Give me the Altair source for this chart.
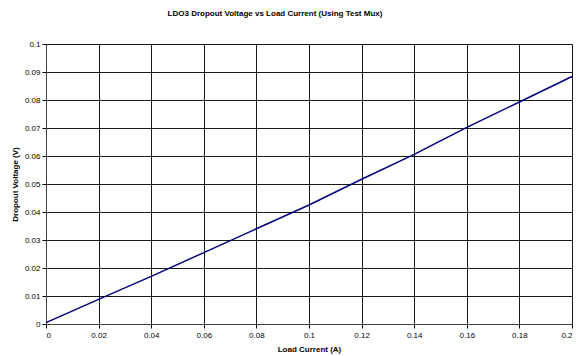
import altair as alt
import pandas as pd

# Load current (A) and measured dropout voltage (V)
load_current = [0.0, 0.02, 0.04, 0.06, 0.08, 0.10, 0.12, 0.14, 0.16, 0.18, 0.20]
dropout_voltage = [0.0005, 0.0088, 0.0170, 0.0255, 0.0340, 0.0425, 0.0517, 0.0606, 0.0702, 0.0793, 0.0884]

x_ticks = [0, 0.02, 0.04, 0.06, 0.08, 0.1, 0.12, 0.14, 0.16, 0.18, 0.2]
y_ticks = [0, 0.01, 0.02, 0.03, 0.04, 0.05, 0.06, 0.07, 0.08, 0.09, 0.1]

df = pd.DataFrame({"current": load_current, "voltage": dropout_voltage})

font = "Liberation Sans"

chart = (
    alt.Chart(df)
    .mark_line(color="#000080", strokeWidth=1.5)
    .encode(
        x=alt.X(
            "current:Q",
            scale=alt.Scale(domain=[0, 0.2], nice=False),
            axis=alt.Axis(
                values=x_ticks,
                title="Load Current (A)",
                format="~g",
                labelFontSize=8,
                labelFont=font,
                labelColor="#000000",
                titleFont=font,
                titleFontSize=8,
                titleFontWeight="bold",
                titleColor="#000000",
                titlePadding=6,
                tickSize=4,
                tickColor="#000000",
                domainColor="#404040",
                gridColor="#000000",
                gridOpacity=0.9,
                labelPadding=3,
            ),
        ),
        y=alt.Y(
            "voltage:Q",
            scale=alt.Scale(domain=[0, 0.1], nice=False),
            axis=alt.Axis(
                values=y_ticks,
                title="Dropout Voltage (V)",
                format="~g",
                labelFontSize=8,
                labelFont=font,
                labelColor="#000000",
                titleFont=font,
                titleFontSize=8,
                titleFontWeight="bold",
                titleColor="#000000",
                titlePadding=5,
                tickSize=4,
                tickColor="#000000",
                domainColor="#404040",
                gridColor="#000000",
                gridOpacity=0.9,
                labelPadding=2,
            ),
        ),
    )
    .properties(
        width=526,
        height=280,
        title=alt.TitleParams(
            "LDO3 Dropout Voltage vs Load Current (Using Test Mux)",
            font=font,
            fontSize=8,
            fontWeight="bold",
            color="#000000",
            offset=22,
            dx=-34,
        ),
        autosize=alt.AutoSizeParams(type="none"),
        padding={"left": 46, "top": 44, "right": 8, "bottom": 32},
    )
    .configure_view(stroke="#404040", strokeWidth=1)
    .configure(background="#ffffff")
)

chart.save("out.html", embed_options={"renderer": "svg", "actions": False})
